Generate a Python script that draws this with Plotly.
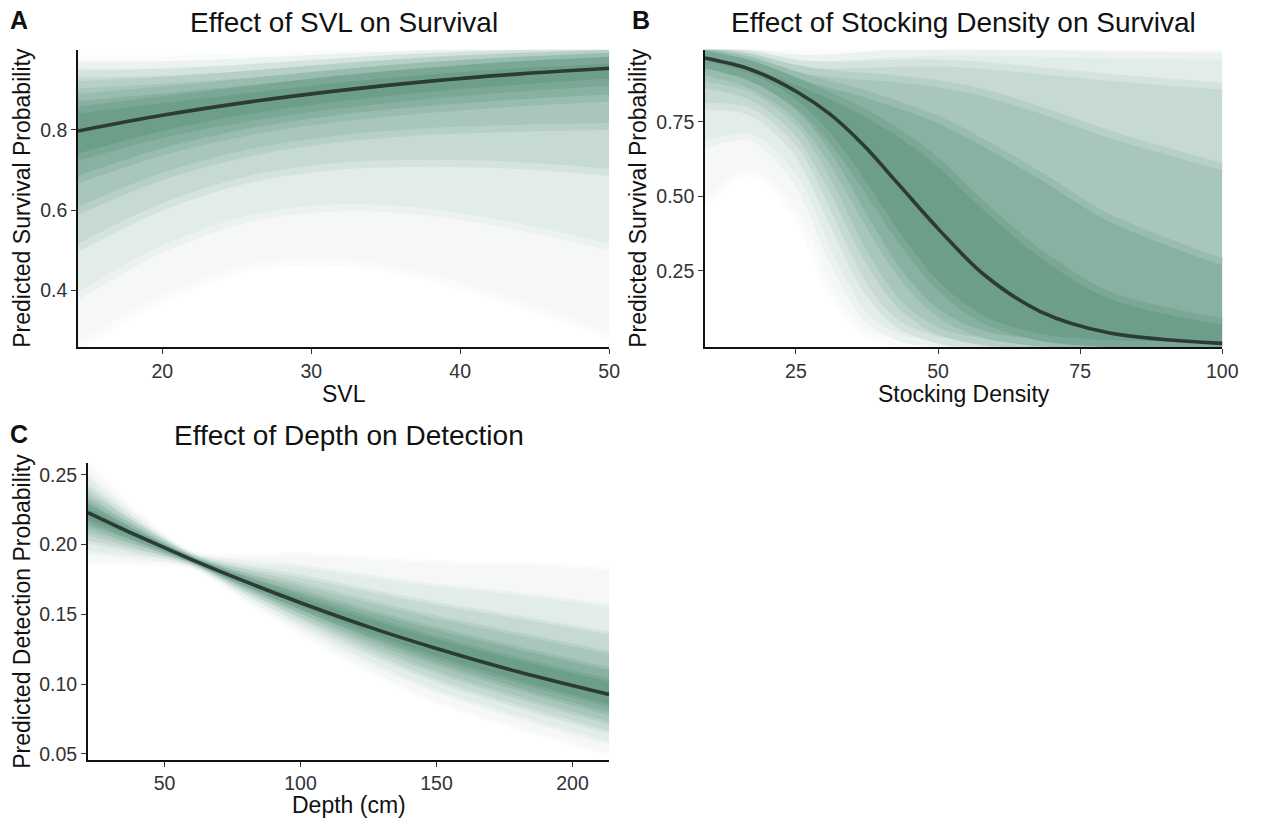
import plotly.graph_objects as go

# ---------------- data ----------------
LEVELS = [0.99, 0.95, 0.85, 0.70, 0.50, 0.30]  # interval widths, outer -> inner

# Panel A: SVL
A_x = [14.34, 20, 26, 32, 38, 44, 50]
A_median = [0.797, 0.836, 0.870, 0.898, 0.921, 0.939, 0.953]
A_lower = [
    [0.262, 0.378, 0.457, 0.470, 0.432, 0.365, 0.288],
    [0.386, 0.503, 0.580, 0.606, 0.594, 0.558, 0.508],
    [0.506, 0.608, 0.678, 0.710, 0.717, 0.711, 0.694],
    [0.598, 0.684, 0.744, 0.778, 0.796, 0.804, 0.808],
    [0.676, 0.745, 0.796, 0.829, 0.851, 0.867, 0.879],
    [0.732, 0.788, 0.831, 0.862, 0.886, 0.904, 0.919],
]
A_upper = [
    [0.977, 0.977, 0.982, 0.989, 0.994, 0.998, 0.999],
    [0.961, 0.962, 0.970, 0.981, 0.989, 0.995, 0.998],
    [0.938, 0.943, 0.955, 0.970, 0.982, 0.990, 0.995],
    [0.912, 0.923, 0.939, 0.957, 0.972, 0.983, 0.990],
    [0.880, 0.899, 0.920, 0.942, 0.960, 0.973, 0.983],
    [0.849, 0.875, 0.901, 0.926, 0.946, 0.962, 0.973],
]

# Panel B: Stocking density
B_x = [9, 17, 25, 31, 37, 43, 50, 58, 68, 80, 100]
B_median = [0.964, 0.926, 0.853, 0.776, 0.670, 0.542, 0.392, 0.239, 0.114, 0.043, 0.0072]
B_lower = [
    [0.478, 0.579, 0.436, 0.185, 0.045, 0.0087, 0.0012, 0.0001, 0.0, 0.0, 0.0],
    [0.673, 0.699, 0.556, 0.303, 0.103, 0.0277, 0.0052, 0.0007, 0.0001, 0.0, 0.0],
    [0.803, 0.783, 0.653, 0.430, 0.199, 0.0714, 0.0184, 0.0035, 0.0005, 0.0, 0.0],
    [0.874, 0.836, 0.721, 0.537, 0.310, 0.142, 0.0481, 0.0125, 0.0022, 0.0003, 0.0],
    [0.918, 0.874, 0.774, 0.629, 0.432, 0.249, 0.1095, 0.037, 0.009, 0.0017, 0.0001],
    [0.942, 0.899, 0.811, 0.697, 0.538, 0.365, 0.200, 0.087, 0.0274, 0.0067, 0.0006],
]
B_upper = [
    [0.9988, 0.991, 0.978, 0.981, 0.989, 0.9939, 0.9965, 0.998, 0.998, 0.997, 0.997],
    [0.9972, 0.985, 0.964, 0.965, 0.973, 0.980, 0.984, 0.984, 0.980, 0.975, 0.970],
    [0.9945, 0.977, 0.947, 0.940, 0.943, 0.947, 0.948, 0.940, 0.922, 0.900, 0.870],
    [0.9907, 0.967, 0.929, 0.912, 0.903, 0.894, 0.878, 0.848, 0.790, 0.710, 0.600],
    [0.985, 0.956, 0.908, 0.876, 0.845, 0.808, 0.758, 0.680, 0.570, 0.430, 0.280],
    [0.978, 0.945, 0.887, 0.838, 0.782, 0.714, 0.616, 0.470, 0.310, 0.170, 0.080],
]

# Panel C: Depth
C_x = [21.8, 40, 60, 80, 100, 125, 150, 180, 213.5]
C_median = [0.2229, 0.2063, 0.1892, 0.1732, 0.1583, 0.1410, 0.1255, 0.1088, 0.0925]
C_lower = [
    [0.1861, 0.1860, 0.1833, 0.1590, 0.1358, 0.1088, 0.0868, 0.0680, 0.0496],
    [0.1945, 0.1907, 0.1847, 0.1623, 0.1409, 0.1158, 0.0949, 0.0762, 0.0577],
    [0.2017, 0.1948, 0.1859, 0.1651, 0.1453, 0.1221, 0.1024, 0.0839, 0.0655],
    [0.2075, 0.1980, 0.1868, 0.1674, 0.1489, 0.1272, 0.1084, 0.0903, 0.0722],
    [0.2128, 0.2008, 0.1877, 0.1694, 0.1521, 0.1319, 0.1142, 0.0964, 0.0787],
    [0.2171, 0.2031, 0.1883, 0.1710, 0.1547, 0.1357, 0.1189, 0.1016, 0.0844],
]
C_upper = [
    [0.2582, 0.2237, 0.1951, 0.1924, 0.1936, 0.1906, 0.1878, 0.1866, 0.1827],
    [0.2494, 0.2194, 0.1937, 0.1877, 0.1847, 0.1776, 0.1710, 0.1648, 0.1563],
    [0.2422, 0.2159, 0.1925, 0.1838, 0.1774, 0.1672, 0.1578, 0.1480, 0.1365],
    [0.2366, 0.2138, 0.1916, 0.1808, 0.1719, 0.1595, 0.1480, 0.1360, 0.1226],
    [0.2318, 0.2107, 0.1908, 0.1781, 0.1670, 0.1528, 0.1398, 0.1259, 0.1112],
    [0.2279, 0.2088, 0.1901, 0.1760, 0.1632, 0.1477, 0.1335, 0.1183, 0.1028],
]

A_xticks = [20, 30, 40, 50]
A_yticks = [0.4, 0.6, 0.8]
B_xticks = [25, 50, 75, 100]
B_yticks = [0.25, 0.50, 0.75]
C_xticks = [50, 100, 150, 200]
C_yticks = [0.05, 0.10, 0.15, 0.20, 0.25]

# ---------------- styling ----------------
BAND_RGB = [(245, 248, 247), (226, 236, 232), (198, 218, 210),
            (168, 198, 186), (137, 177, 161), (109, 158, 138)]
LINE_COLOR = "#2d3b35"
FONT = "Liberation Sans, Arial, Helvetica, sans-serif"
W, H = 1261, 822


def rgb(c):
    return "rgb(%d,%d,%d)" % c


def mix(c1, c2, t=0.5):
    return tuple(round(a * (1 - t) + b * t) for a, b in zip(c1, c2))


fig = go.Figure()


def add_panel(x, lower, upper, median, xa, ya, edge_w):
    prev = (255, 255, 255)
    for lo, hi, col in zip(lower, upper, BAND_RGB):
        edge = rgb(mix(prev, col))
        fig.add_trace(go.Scatter(x=x, y=lo, mode="lines",
                                 line=dict(width=edge_w, color=edge, shape="spline", smoothing=0.9),
                                 xaxis=xa, yaxis=ya, showlegend=False, hoverinfo="skip"))
        fig.add_trace(go.Scatter(x=x, y=hi, mode="lines",
                                 line=dict(width=edge_w, color=edge, shape="spline", smoothing=0.9),
                                 fill="tonexty", fillcolor=rgb(col),
                                 xaxis=xa, yaxis=ya, showlegend=False, hoverinfo="skip"))
        prev = col
    fig.add_trace(go.Scatter(x=x, y=median, mode="lines",
                             line=dict(width=3.6, color=LINE_COLOR, shape="spline", smoothing=0.9),
                             xaxis=xa, yaxis=ya, showlegend=False))


add_panel(A_x, A_lower, A_upper, A_median, "x", "y", 7)
add_panel(B_x, B_lower, B_upper, B_median, "x2", "y2", 7)
add_panel(C_x, C_lower, C_upper, C_median, "x3", "y3", 3)


def px_x(p0, p1):
    return [p0 / W, p1 / W]


def px_y(top, bottom):
    return [1 - bottom / H, 1 - top / H]


axis_common = dict(showline=True, linecolor="#111111", linewidth=1.6, ticks="outside",
                   ticklen=5, tickwidth=1.3, tickcolor="#333333", showgrid=False,
                   zeroline=False, tickfont=dict(size=19.5, color="#333333", family=FONT),
                   fixedrange=True)

fig.update_layout(
    width=W, height=H, margin=dict(l=0, r=0, t=0, b=0),
    paper_bgcolor="white", plot_bgcolor="white",
    font=dict(family=FONT, color="#111111"),
    xaxis=dict(domain=px_x(79, 617), range=[A_x[0], A_x[-1]], tickvals=A_xticks,
               anchor="y", **axis_common),
    yaxis=dict(domain=px_y(50, 349), range=[0.259, 0.999], tickvals=A_yticks,
               tickformat=".1f", anchor="x", **axis_common),
    xaxis2=dict(domain=px_x(714, 1238), range=[B_x[0], B_x[-1]], tickvals=B_xticks,
                anchor="y2", **axis_common),
    yaxis2=dict(domain=px_y(50, 349), range=[-0.006, 0.992], tickvals=B_yticks,
                tickformat=".2f", anchor="x2", **axis_common),
    xaxis3=dict(domain=px_x(89, 617), range=[C_x[0], C_x[-1]], tickvals=C_xticks,
                anchor="y3", **axis_common),
    yaxis3=dict(domain=px_y(465, 764), range=[0.0454, 0.2586], tickvals=C_yticks,
                tickformat=".2f", anchor="x3", **axis_common),
)


def ann(text, x, y, size, bold=False, angle=0, color="#111111"):
    fig.add_annotation(text=f"<b>{text}</b>" if bold else text,
                       x=x / W, y=1 - y / H, xref="paper", yref="paper",
                       xanchor="center", yanchor="middle", showarrow=False,
                       textangle=angle, font=dict(size=size, family=FONT, color=color))


# titles
ann("Effect of SVL on Survival", 348, 23, 28)
ann("Effect of Stocking Density on Survival", 976, 23, 28)
ann("Effect of Depth on Detection", 353, 438, 28)
# panel letters
ann("A", 19, 20, 25, bold=True)
ann("B", 649, 20, 25, bold=True)
ann("C", 19, 436, 25, bold=True)
# axis titles
ann("SVL", 348, 396, 23)
ann("Stocking Density", 976, 396, 23)
ann("Depth (cm)", 353, 809, 23)
ann("Predicted Survival Probability", 22, 199, 23, angle=-90)
ann("Predicted Survival Probability", 646, 199, 23, angle=-90)
ann("Predicted Detection Probability", 22, 614, 23, angle=-90)

fig.write_html("out.html")
